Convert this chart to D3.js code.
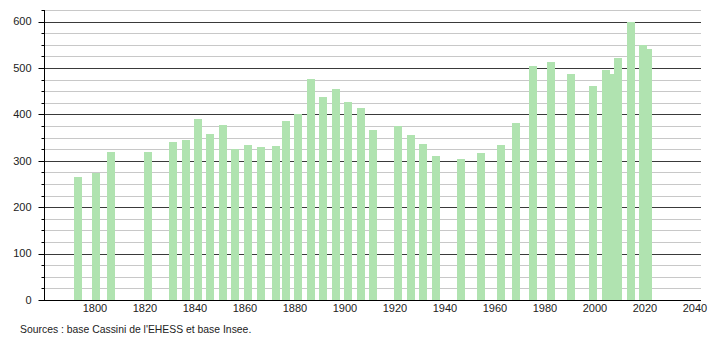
<!DOCTYPE html>
<html>
<head>
<meta charset="utf-8">
<script src="https://cdn.jsdelivr.net/npm/d3@7"></script>
<style>
  body { margin: 0; background: #fff; }
  svg text { font-family: "Liberation Sans", Arial, sans-serif; font-size: 11px; fill: #222; }
</style>
</head>
<body>
<svg id="chart"></svg>
<script>
// Census years and population counts
const years = [1793, 1800, 1806, 1821, 1831, 1836, 1841, 1846, 1851, 1856,
  1861, 1866, 1872, 1876, 1881, 1886, 1891, 1896, 1901, 1906,
  1911, 1921, 1926, 1931, 1936, 1946, 1954, 1962, 1968, 1975,
  1982, 1990, 1999, 2004, 2006, 2009, 2014, 2019, 2021];
const population = [265, 273, 320, 320, 341, 345, 391, 358, 378, 325,
  334, 329, 332, 386, 401, 476, 437, 455, 427, 414,
  366, 374, 355, 337, 310, 304, 317, 334, 381, 504,
  514, 488, 462, 496, 488, 522, 600, 549, 542];
const xTicks = [1800, 1820, 1840, 1860, 1880, 1900, 1920, 1940, 1960, 1980, 2000, 2020, 2040];
const yTicks = [0, 100, 200, 300, 400, 500, 600];
const sourceText = "Sources : base Cassini de l'EHESS et base Insee.";

const data = years.map((y, i) => ({ year: y, value: population[i] }));

const width = 710;
const height = 340;
const svg = d3.select('#chart')
  .attr('width', width)
  .attr('height', height);

// Scales
const x = d3.scaleLinear().domain([1780, 2042]).range([45, 700]);
const y = d3.scaleLinear().domain([0, 625]).range([300, 10]);

// Gridlines: minor every 25, major every 100
const minor = d3.range(25, 626, 25).filter(v => v % 100 !== 0);
svg.append('g')
  .selectAll('line')
  .data(minor)
  .enter()
  .append('line')
  .attr('x1', 44)
  .attr('x2', 701)
  .attr('y1', d => Math.round(y(d)) + 0.5)
  .attr('y2', d => Math.round(y(d)) + 0.5)
  .attr('stroke', '#c8c8c8');

svg.append('g')
  .selectAll('line')
  .data(yTicks.filter(v => v > 0))
  .enter()
  .append('line')
  .attr('x1', 44)
  .attr('x2', 701)
  .attr('y1', d => Math.round(y(d)) + 0.5)
  .attr('y2', d => Math.round(y(d)) + 0.5)
  .attr('stroke', '#3a3a3a');

// Bars
svg.append('g')
  .attr('shape-rendering', 'crispEdges')
  .selectAll('rect')
  .data(data)
  .enter()
  .append('rect')
  .attr('x', d => Math.round(x(d.year) - 3.5))
  .attr('width', 8)
  .attr('y', d => Math.round(y(d.value)))
  .attr('height', d => y(0) - Math.round(y(d.value)))
  .attr('fill', '#b0e3b0');

// Y axis
const yAxis = svg.append('g').attr('transform', 'translate(44.5,0)');
yAxis.append('line')
  .attr('y1', y(625))
  .attr('y2', y(0))
  .attr('stroke', '#000');
yAxis.selectAll('.minor-tick')
  .data(minor)
  .enter()
  .append('line')
  .attr('x1', -3)
  .attr('x2', 0)
  .attr('y1', d => Math.round(y(d)) + 0.5)
  .attr('y2', d => Math.round(y(d)) + 0.5)
  .attr('stroke', '#000');
yAxis.selectAll('.major-tick')
  .data(yTicks)
  .enter()
  .append('line')
  .attr('x1', -6)
  .attr('x2', 0)
  .attr('y1', d => Math.round(y(d)) + 0.5)
  .attr('y2', d => Math.round(y(d)) + 0.5)
  .attr('stroke', '#000');
yAxis.selectAll('text')
  .data(yTicks)
  .enter()
  .append('text')
  .attr('x', -13)
  .attr('y', d => y(d))
  .attr('dy', '0.35em')
  .attr('text-anchor', 'end')
  .text(d => d);

// X axis
const xAxis = svg.append('g');
xAxis.append('line')
  .attr('x1', 44)
  .attr('x2', 701)
  .attr('y1', 300.5)
  .attr('y2', 300.5)
  .attr('stroke', '#000');
xAxis.selectAll('text')
  .data(xTicks)
  .enter()
  .append('text')
  .attr('x', d => x(d))
  .attr('y', 308)
  .attr('dy', '0.35em')
  .attr('text-anchor', 'middle')
  .text(d => d);

// Source note
svg.append('text')
  .attr('x', 20)
  .attr('y', 329)
  .attr('dy', '0.35em')
  .style('font-size', '10.4px')
  .text(sourceText);
</script>
</body>
</html>
